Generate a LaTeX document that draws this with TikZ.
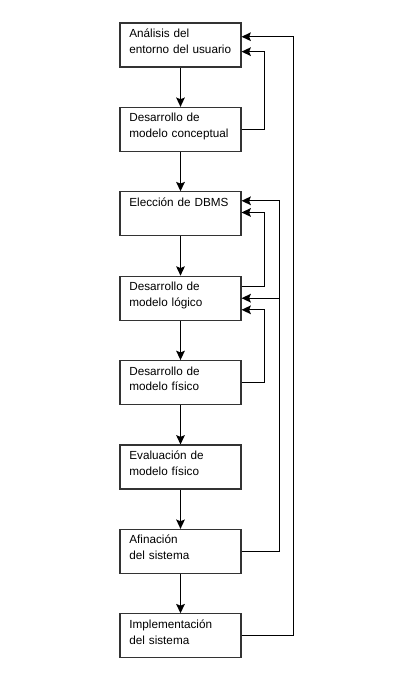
\documentclass[tikz,border=0pt]{standalone}
\usepackage{fontspec}
\setmainfont{Liberation Sans}
\usetikzlibrary{calc,positioning,arrows.meta}

\tikzset{
	etapa/.style={draw=black!80, line width=0.8pt, text width=76.75pt, align=left,
		inner xsep=7pt, inner ysep=3pt, text height=7.9pt, text depth=19.1pt,
		font=\fontsize{8.8}{11.8}\selectfont},
	flecha/.style={line width=1pt, -{Stealth[length=7pt,width=6.5pt,inset=1.3pt]}}
}

\begin{document}
\begin{tikzpicture}[x=0.75pt, y=-0.75pt, node distance=29.5pt]
		%%%%% START %%%%%
		\useasboundingbox (0, 0) rectangle (403, 684);
		
		\node[etapa] (analisis) at (180.5, 45) {Análisis del\\entorno del usuario};
		\node[etapa, below=of analisis] (conceptual) {Desarrollo de\\modelo conceptual};
		\node[etapa, below=of conceptual] (dbms) {Elección de DBMS};
		\node[etapa, below=of dbms] (logico) {Desarrollo de\\modelo lógico};
		\node[etapa, below=of logico] (fisico) {Desarrollo de\\modelo físico};
		\node[etapa, below=of fisico] (evaluacion) {Evaluación de\\modelo físico};
		\node[etapa, below=of evaluacion] (afinacion) {Afinación\\del sistema};
		\node[etapa, below=of afinacion] (implementacion) {Implementación\\del sistema};
		
		\draw[flecha] (analisis) -- (conceptual);
		\draw[flecha] (conceptual) -- (dbms);
		\draw[flecha] (dbms) -- (logico);
		\draw[flecha] (logico) -- (fisico);
		\draw[flecha] (fisico) -- (evaluacion);
		\draw[flecha] (evaluacion) -- (afinacion);
		\draw[flecha] (afinacion) -- (implementacion);
		
		% retornos
		\draw[flecha] (conceptual.east) -- ++(23, 0) |- ([yshift=-5pt]analisis.east);
		\draw[flecha] (implementacion.east) -- ++(52, 0) |- ([yshift=6.2pt]analisis.east);
		\draw[flecha] ([yshift=8.8pt]logico.east) -- ++(23, 0) |- ([yshift=1pt]dbms.east);
		\draw[flecha] (fisico.east) -- ++(23, 0) |- ([yshift=-8.7pt]logico.east);
		
		\coordinate (retorno) at ($(afinacion.east)+(38, 0)$);
		\draw[flecha] (afinacion.east) -- (retorno) |- ([yshift=9.75pt]dbms.east);
		\draw[flecha] (retorno |- logico.east) -- (logico.east);
		
		%%%%% END %%%%%
	\end{tikzpicture}
\end{document}
